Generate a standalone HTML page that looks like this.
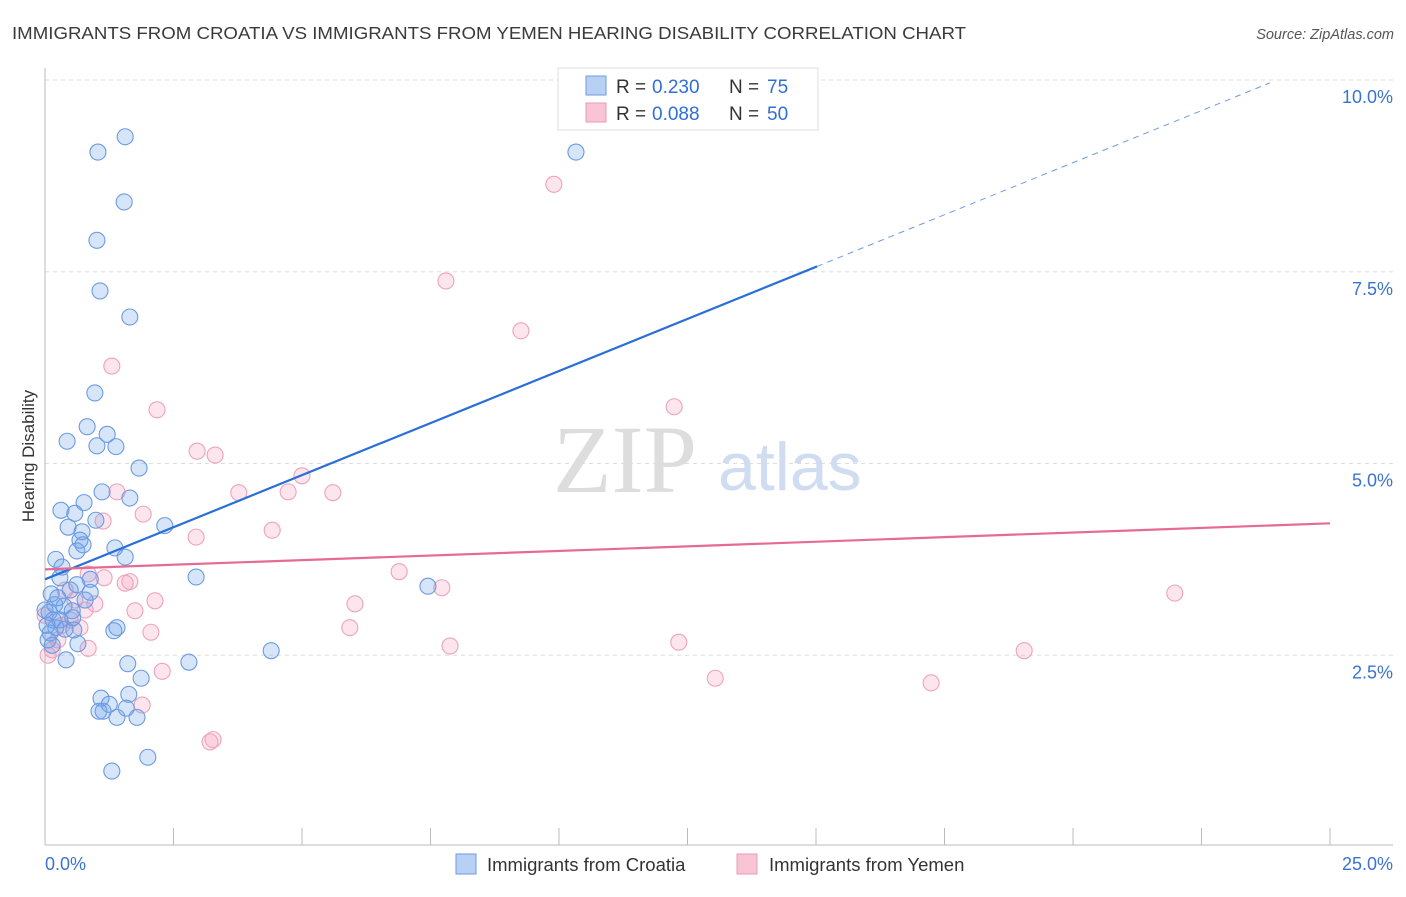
<!DOCTYPE html>
<html><head><meta charset="utf-8"><style>
body{margin:0;background:#fff;font-family:"Liberation Sans",sans-serif;}
svg text{font-family:"Liberation Sans",sans-serif;}
</style></head><body>
<svg id="chart" width="1406" height="892" xmlns="http://www.w3.org/2000/svg">
<text x="12" y="39" font-size="17.5" fill="#3a3a3a" textLength="954" lengthAdjust="spacingAndGlyphs">IMMIGRANTS FROM CROATIA VS IMMIGRANTS FROM YEMEN HEARING DISABILITY CORRELATION CHART</text>
<text x="1394" y="39" font-size="14.5" fill="#555" text-anchor="end" font-style="italic">Source: ZipAtlas.com</text>
<g>
<text x="553" y="492" font-size="96" fill="#ddd" style="font-family:'Liberation Serif',serif">ZIP</text>
<text x="718" y="490" font-size="68" fill="#cfdcf2">atlas</text>
</g>
<g id="grid"></g>
<g id="axes"></g>
<text transform="translate(34,456) rotate(-90)" font-size="17" fill="#333" text-anchor="middle">Hearing Disability</text>
<g id="pts"></g>
<g id="trend"></g>
<g>
<rect x="558" y="68" width="260" height="62" fill="#fff" stroke="#ddd"/>
<rect x="586" y="76" width="20" height="19" fill="#b9d0f5" stroke="#6f9ae0"/>
<rect x="586" y="103" width="20" height="19" fill="#f9c5d5" stroke="#eb9ab4"/>
<text x="616" y="93" font-size="19" fill="#333">R =</text>
<text x="652" y="93" font-size="19" fill="#2f6fd6">0.230</text>
<text x="729" y="93" font-size="19" fill="#333">N =</text>
<text x="767" y="93" font-size="19" fill="#2f6fd6">75</text>
<text x="616" y="120" font-size="19" fill="#333">R =</text>
<text x="652" y="120" font-size="19" fill="#2f6fd6">0.088</text>
<text x="729" y="120" font-size="19" fill="#333">N =</text>
<text x="767" y="120" font-size="19" fill="#2f6fd6">50</text>
</g>
<g>
<rect x="456" y="854" width="20" height="20" fill="#b9d0f5" stroke="#6f9ae0"/>
<text x="487" y="871" font-size="18.5" fill="#333">Immigrants from Croatia</text>
<rect x="737" y="854" width="20" height="20" fill="#f9c5d5" stroke="#eb9ab4"/>
<text x="769" y="871" font-size="18.5" fill="#333">Immigrants from Yemen</text>
</g>
</svg>
<script>
const croatiaX=[1.56,1.03,1.54,1.01,1.07,1.65,0.97,0.82,0.43,1.21,1.01,1.38,1.83,0.31,0.58,1.11,0.76,1.65,0.99,0.45,0.72,0.68,0.74,0.62,1.36,1.56,2.33,0.21,0.33,2.94,0.29,0.88,0.12,0.49,0.88,0.19,0.08,0.37,0.53,0.16,0.54,0.21,0.04,0.39,0.56,0.06,0.64,0.41,1.34,1.40,1.61,1.87,2.80,4.40,7.45,10.33,1.09,1.63,1.25,1.13,1.05,1.40,1.58,1.79,1.30,2.00,0.10,0.25,0.0,0.14,0.29,0.78,0.62];
const croatiaY=[9.26,9.06,8.41,7.91,7.25,6.91,5.92,5.48,5.29,5.38,5.23,5.22,4.94,4.39,4.35,4.63,4.49,4.55,4.26,4.17,4.11,4.00,3.94,3.86,3.90,3.78,4.19,3.75,3.65,3.52,3.51,3.49,3.30,3.35,3.32,3.16,3.06,3.14,3.08,2.96,2.99,2.86,2.89,2.84,2.83,2.70,2.65,2.44,2.82,2.86,2.39,2.20,2.41,2.56,3.40,9.06,1.94,1.99,1.86,1.77,1.77,1.69,1.81,1.69,0.99,1.17,2.79,3.25,3.09,2.63,2.96,3.22,3.42];
const yemenX=[9.90,7.80,9.26,12.24,1.30,2.18,2.96,3.31,3.77,4.73,5.00,5.60,1.40,1.91,1.13,2.94,4.42,6.89,7.72,6.03,2.14,0.97,1.75,5.93,2.06,7.88,12.33,13.04,17.24,19.05,21.98,2.28,1.89,3.21,3.27,0.84,1.15,1.56,1.65,0.06,0.14,0.25,0.33,0.49,0.68,0.84,0.0,0.78,0.58,0.39];
const yemenY=[8.64,7.38,6.73,5.74,6.27,5.70,5.16,5.11,4.62,4.63,4.84,4.62,4.63,4.34,4.25,4.04,4.13,3.59,3.38,3.17,3.21,3.17,3.08,2.86,2.80,2.62,2.67,2.20,2.14,2.56,3.31,2.29,1.85,1.37,1.40,3.56,3.51,3.44,3.46,2.50,2.57,2.70,2.89,2.96,2.86,2.59,3.02,3.09,3.22,3.35];
const yTicks=[2.5,5.0,7.5,10.0];
const yTickLabels=["2.5%","5.0%","7.5%","10.0%"];
const xTickCount=10;
const trendCroatia=[3.49,0.2716,15.02,23.83];
const trendYemen=[3.62,0.024,25];
const NS='http://www.w3.org/2000/svg';
const X=v=>45+v*51.4, Y=v=>847-v*76.7;
function mk(tag,attrs,parent){const e=document.createElementNS(NS,tag);for(const k in attrs)e.setAttribute(k,attrs[k]);document.getElementById(parent).appendChild(e);return e;}
yTicks.forEach((t,i)=>{
  const l=mk('line',{x1:45,x2:1393,y1:Y(t),y2:Y(t),stroke:'#ddd','stroke-dasharray':'4,4'},'grid');
  
  
  const tx=mk('text',{x:1393,y:Y(t)+23,'font-size':18,fill:'#3b73d1','text-anchor':'end'},'grid');
  tx.textContent=yTickLabels[i];
  
  
});
mk('line',{x1:45,x2:45,y1:68,y2:845,stroke:'#bbb'},'axes');
mk('line',{x1:45,x2:1393,y1:845,y2:845,stroke:'#bbb'},'axes');
for(let i=1;i<=xTickCount;i++){const x=X(i*2.5);const t=mk('line',{x1:x,x2:x,y1:828,y2:845,stroke:'#bbb'},'axes');
  
  }
const x0=mk('text',{x:45,y:870,'font-size':18,fill:'#3b73d1'},'axes');x0.textContent='0.0%';


const x1=mk('text',{x:1393,y:870,'font-size':18,fill:'#3b73d1','text-anchor':'end'},'axes');x1.textContent='25.0%';


yemenX.forEach((v,i)=>{const c=mk('circle',{cx:X(v),cy:Y(yemenY[i]),r:8,fill:'rgba(244,160,190,0.28)',stroke:'#eea3bb','stroke-width':1.1},'pts');
  
  });
croatiaX.forEach((v,i)=>{const c=mk('circle',{cx:X(v),cy:Y(croatiaY[i]),r:8,fill:'rgba(110,160,235,0.28)',stroke:'#6b9be2','stroke-width':1.1},'pts');
  
  });
const [bi,bs,be,bd]=trendCroatia;
const tb=mk('line',{x1:X(0),y1:Y(bi),x2:X(be),y2:Y(bi+bs*be),stroke:'#2a6fd8','stroke-width':2.2},'trend');


const td=mk('line',{x1:X(be),y1:Y(bi+bs*be),x2:X(bd),y2:Y(bi+bs*bd),stroke:'#6f9ae0','stroke-width':1,'stroke-dasharray':'6,5'},'trend');


const [pi,ps,pe]=trendYemen;
const tp=mk('line',{x1:X(0),y1:Y(pi),x2:X(pe),y2:Y(pi+ps*pe),stroke:'#e56b94','stroke-width':2.2},'trend');


</script>
</body></html>
